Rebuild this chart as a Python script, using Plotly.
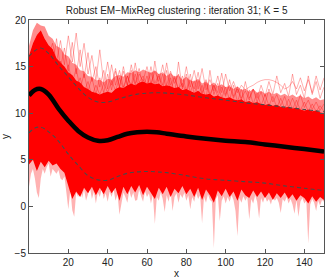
import plotly.graph_objects as go

# ---------------- data ----------------
x_curve = [0, 3, 6, 10, 15, 20, 25, 30, 35, 40, 45, 50, 55, 60, 65, 70, 80, 90, 100, 110, 120, 130, 140, 150]
mean_curve = [11.9, 12.5, 12.6, 12.0, 10.5, 9.2, 8.1, 7.4, 7.05, 7.1, 7.45, 7.8, 7.95, 8.0, 7.95, 7.8, 7.5, 7.25, 7.05, 6.9, 6.65, 6.4, 6.15, 5.9]
upper_curve = [16.1, 16.7, 17.0, 16.4, 15.1, 13.9, 12.7, 11.7, 11.2, 11.2, 11.5, 11.8, 12.05, 12.15, 12.2, 12.15, 11.95, 11.65, 11.4, 11.1, 10.9, 10.65, 10.4, 10.15]
lower_curve = [7.9, 8.4, 8.5, 8.0, 7.0, 5.6, 4.4, 3.3, 2.85, 2.8, 3.2, 3.55, 3.7, 3.75, 3.7, 3.62, 3.3, 2.95, 2.8, 2.65, 2.5, 2.2, 1.95, 1.7]

# envelopes of the bundle of red curves (step 2)
x_grid = list(range(0, 151, 2))
core_hi = [16.2, 17.5, 18.4, 18.9, 18.0, 17.3, 16.9, 15.9, 15.5, 15.0, 14.4, 14.1, 13.5, 13.3, 12.8, 12.6,
           12.3, 12.2, 12.0, 12.2, 12.3, 12.2, 12.6, 12.8, 12.7, 13.0, 13.2, 13.0, 13.3, 13.4, 13.2, 13.3,
           13.1, 13.2, 12.9, 13.0, 12.9, 12.7, 12.8, 12.5, 12.6, 12.4, 12.2, 12.4, 12.1, 12.0, 12.1, 11.8,
           11.9, 11.7, 11.6, 11.7, 11.5, 11.4, 11.5, 11.2, 11.3, 11.1, 11.2, 11.0, 10.9, 11.0, 10.8, 10.9,
           10.7, 10.6, 10.7, 10.5, 10.6, 10.4, 10.3, 10.4, 10.2, 10.3, 10.1, 10.0]
haze_hi = [17.2, 18.9, 19.7, 19.4, 19.3, 18.3, 18.0, 17.2, 17.0, 16.3, 16.1, 15.4, 15.2, 14.6, 14.5, 14.0,
           13.9, 13.5, 13.6, 13.3, 13.7, 13.6, 14.0, 14.1, 13.9, 14.4, 14.3, 14.6, 14.4, 14.7, 14.5, 14.3,
           14.6, 14.2, 14.4, 14.0, 14.3, 13.9, 14.1, 13.6, 13.9, 13.5, 13.4, 13.7, 13.2, 13.4, 13.0, 13.3,
           12.9, 13.1, 12.8, 12.9, 12.6, 12.9, 12.5, 12.6, 12.3, 12.6, 12.2, 12.4, 12.1, 12.3, 12.0, 12.2,
           11.9, 12.1, 11.8, 12.0, 11.7, 11.9, 11.6, 11.8, 11.5, 11.7, 11.4, 11.5]
red_lo = [4.5, 5.0, 3.8, 4.8, 4.2, 4.9, 4.4, 4.6, 4.0, 3.6, 2.2, 0.8, 1.6, 1.0, 2.0, 1.4,
          2.1, 1.2, 2.0, 1.3, 2.2, 1.4, 2.0, 0.6, 2.1, 1.3, 2.2, 1.5, 2.3, 1.2, 2.1, 1.5,
          0.8, 2.0, 1.3, 2.1, 1.0, 1.9, 1.4, 2.2, 1.3, 1.9, 1.0, 2.0, 0.7, 1.8, 1.2, 0.4,
          1.7, 1.1, 1.9, 1.0, 1.6, 0.6, 1.8, 1.2, 0.9, 1.7, 1.0, 1.6, 0.9, 1.5, 0.7, 1.4,
          0.9, 1.5, 0.8, 1.3, 0.6, 1.2, 0.9, 0.3, 1.1, 0.5, 1.0, 0.7]

# lowest pale spikes (step 1)
x_fine = list(range(0, 151))
pale_lo = [2.1, 3.5, 4.0, 3.0, 1.5, 0.9, 3.0, 4.0, 3.5, 4.2,
           4.6, 3.2, 4.0, 3.8, 3.5, 3.9, 3.0, 2.8, 3.2, 1.5,
           -0.3, 1.8, -0.4, -1.1, 1.5, 1.0, 2.0, 0.9, 1.8, 0.6,
           1.2, 2.0, 0.8, 1.6, 0.3, 1.5, 1.0, 1.9, 0.8, 1.4,
           0.5, 1.6, 1.0, 1.8, 0.6, 1.3, -0.9, 0.2, 1.5, 1.0,
           0.4, 1.7, 0.9, 1.5, 0.6, 0.7, 1.8, 1.1, 0.5, 1.6,
           1.0, 1.4, 0.3, 1.2, -1.9, 1.0, 0.6, 1.5, 0.8, -0.6,
           1.2, 0.5, 1.6, -0.5, 1.0, 1.4, 0.4, 1.3, 0.9, 1.5,
           0.6, 1.2, -0.3, 1.0, 0.5, 1.4, 0.8, 1.2, -1.8, 1.0,
           0.4, 1.3, 0.7, 0.5, -4.5, 0.8, 1.2, -1.6, 0.6, 1.1,
           0.3, 1.0, 0.5, 1.2, 0.7, -0.5, -3.2, 0.9, 0.4, 1.1,
           0.6, 1.0, -1.4, 0.8, 0.3, 1.2, 0.5, -1.3, 0.9, 0.4,
           1.1, 0.5, 0.8, 0.2, 1.0, 0.6, 0.9, 0.4, -0.7, 0.8,
           0.5, 1.0, 0.3, 0.8, 0.2, -0.8, 0.7, -1.1, 0.5, 0.9,
           0.3, 0.6, -4.0, 0.2, 0.8, 0.4, -0.5, 0.6, 0.1, 0.7,
           0.5]

# a few individual pale curves above the bundle (step 2)
curve_a = [14, 16, 17.5, 16.5, 17.8, 16.2, 17.5, 15.5, 17.8, 15.2, 18.3, 15.5, 18.6, 15.0, 17.5, 14.2,
           16.2, 13.5, 16.8, 13.2, 15.5, 13.0, 14.8, 12.8, 14.5, 13.0, 15.2, 13.2, 14.8, 12.8, 14.0, 12.5,
           15.6, 12.8, 14.2, 12.5, 13.8, 12.0, 15.5, 12.6, 14.2, 12.2, 13.5, 11.8, 13.0, 11.5, 14.6, 12.0,
           13.2, 11.6, 12.8, 11.4, 13.0, 11.2, 12.6, 11.0, 12.5, 11.0, 12.2, 10.8, 12.0, 10.8, 11.8, 10.6,
           11.6, 10.5, 11.5, 10.4, 11.4, 10.3, 11.2, 10.2, 11.0, 10.2, 10.8, 10.2]
curve_b = [13, 15, 16.2, 18.0, 15.5, 17.2, 15.0, 18.0, 14.8, 17.0, 14.5, 17.6, 14.2, 16.8, 13.8, 16.5,
           13.4, 15.0, 12.8, 14.6, 12.6, 15.2, 13.0, 14.6, 12.8, 14.0, 12.9, 15.4, 13.3, 14.0, 13.0, 15.0,
           13.2, 14.2, 13.0, 15.4, 13.0, 14.0, 12.5, 14.0, 12.4, 14.2, 12.0, 13.5, 12.0, 13.2, 11.8, 13.0,
           12.2, 14.3, 12.0, 13.0, 11.6, 12.6, 11.4, 13.4, 11.6, 12.6, 11.2, 12.3, 11.0, 12.6, 11.2, 12.0,
           10.8, 11.8, 10.6, 11.6, 10.6, 12.0, 10.6, 11.4, 10.4, 11.2, 10.3, 11.0]
curve_c = [12, 14, 15.5, 15.0, 16.5, 14.5, 16.0, 14.0, 15.6, 13.5, 15.2, 13.2, 14.8, 12.6, 14.2, 12.4,
           13.8, 12.0, 13.8, 12.2, 14.2, 12.5, 14.5, 12.8, 15.0, 13.0, 14.6, 13.0, 14.2, 13.5, 15.0, 13.2,
           14.5, 13.4, 15.2, 13.0, 14.5, 13.2, 14.2, 12.8, 15.0, 12.8, 14.6, 12.6, 14.8, 12.5, 13.6, 12.4,
           14.0, 12.2, 14.2, 12.4, 13.4, 12.2, 13.0, 12.5, 12.8, 13.0, 13.3, 13.5, 13.6, 13.6, 13.5, 13.3,
           13.0, 12.6, 12.8, 13.4, 12.6, 13.8, 12.4, 13.6, 12.2, 14.0, 12.5, 13.8]
curve_d = [11, 13, 14.5, 16, 14.2, 15.8, 13.8, 15.2, 13.2, 14.8, 12.8, 14.0, 12.6, 13.8, 12.2, 13.4,
           11.8, 13.0, 12.0, 13.2, 12.2, 13.5, 12.4, 13.8, 12.6, 14.0, 12.8, 14.2, 12.6, 13.6, 12.8, 14.4,
           12.8, 14.0, 12.6, 14.6, 12.4, 13.8, 12.6, 13.2, 12.2, 13.6, 12.6, 14.4, 12.2, 13.6, 12.0, 13.0,
           11.8, 12.8, 11.8, 13.6, 11.8, 12.8, 11.6, 12.4, 11.4, 12.6, 11.6, 13.0, 11.8, 13.4, 12.0, 14.0,
           12.2, 13.2, 11.8, 14.2, 12.0, 13.0, 11.6, 14.0, 12.0, 13.4, 11.6, 12.8]

x_ticks = [20, 40, 60, 80, 100, 120, 140]
y_ticks = [-5, 0, 5, 10, 15, 20]
title_text = "Robust EM\u2212MixReg clustering : iteration 31; K = 5"

# ---------------- figure ----------------
fig = go.Figure()

fig.add_trace(go.Scatter(x=x_fine + x_grid[::-1], y=pale_lo + core_hi[::-1], fill="toself",
                         fillcolor="rgba(255,0,0,0.30)", line=dict(width=0), mode="lines",
                         hoverinfo="skip", showlegend=False))
fig.add_trace(go.Scatter(x=x_grid + x_grid[::-1], y=core_hi + haze_hi[::-1], fill="toself",
                         fillcolor="rgba(255,0,0,0.45)", line=dict(width=0), mode="lines",
                         hoverinfo="skip", showlegend=False))
for cv in (curve_a, curve_b, curve_c, curve_d):
    fig.add_trace(go.Scatter(x=x_grid, y=cv, mode="lines",
                             line=dict(color="rgba(255,0,0,0.35)", width=0.9),
                             hoverinfo="skip", showlegend=False))
fig.add_trace(go.Scatter(x=x_grid + x_grid[::-1], y=red_lo + core_hi[::-1], fill="toself",
                         fillcolor="#ff0000", line=dict(width=0), mode="lines",
                         hoverinfo="skip", showlegend=False))
for cv in (upper_curve, lower_curve):
    fig.add_trace(go.Scatter(x=x_curve, y=cv, mode="lines", line_shape="spline",
                             line=dict(color="#4a4a4a", width=1.1, dash="4px,3px"),
                             hoverinfo="skip", showlegend=False))
fig.add_trace(go.Scatter(x=x_curve, y=mean_curve, mode="lines", line_shape="spline",
                         line=dict(color="black", width=4.5), hoverinfo="skip", showlegend=False))

axis_common = dict(showgrid=False, zeroline=False, showline=True, mirror="ticks",
                   linecolor="#555555", linewidth=1, ticks="inside", ticklen=4,
                   tickcolor="#555555", tickfont=dict(size=10, color="#222222"))
fig.update_layout(
    width=327, height=279,
    margin=dict(l=29, r=3, t=20, b=26),
    paper_bgcolor="white", plot_bgcolor="white",
    hovermode=False,
    font=dict(family="Liberation Sans, Arial, sans-serif", size=10, color="#222222"),
    title=dict(text=title_text, x=0.54, xanchor="center", y=0.963, yanchor="middle",
               yref="container", font=dict(size=10)),
    xaxis=dict(range=[0, 150], tickvals=x_ticks, title=dict(text="x", standoff=2, font=dict(size=10)),
               **axis_common),
    yaxis=dict(range=[-5, 20], tickvals=y_ticks, title=dict(text="y", standoff=4, font=dict(size=10)),
               **axis_common),
)

fig.write_html("out.html", config={"displayModeBar": False, "staticPlot": True},
               post_script="document.body.style.margin='0';document.body.style.overflow='hidden';")
